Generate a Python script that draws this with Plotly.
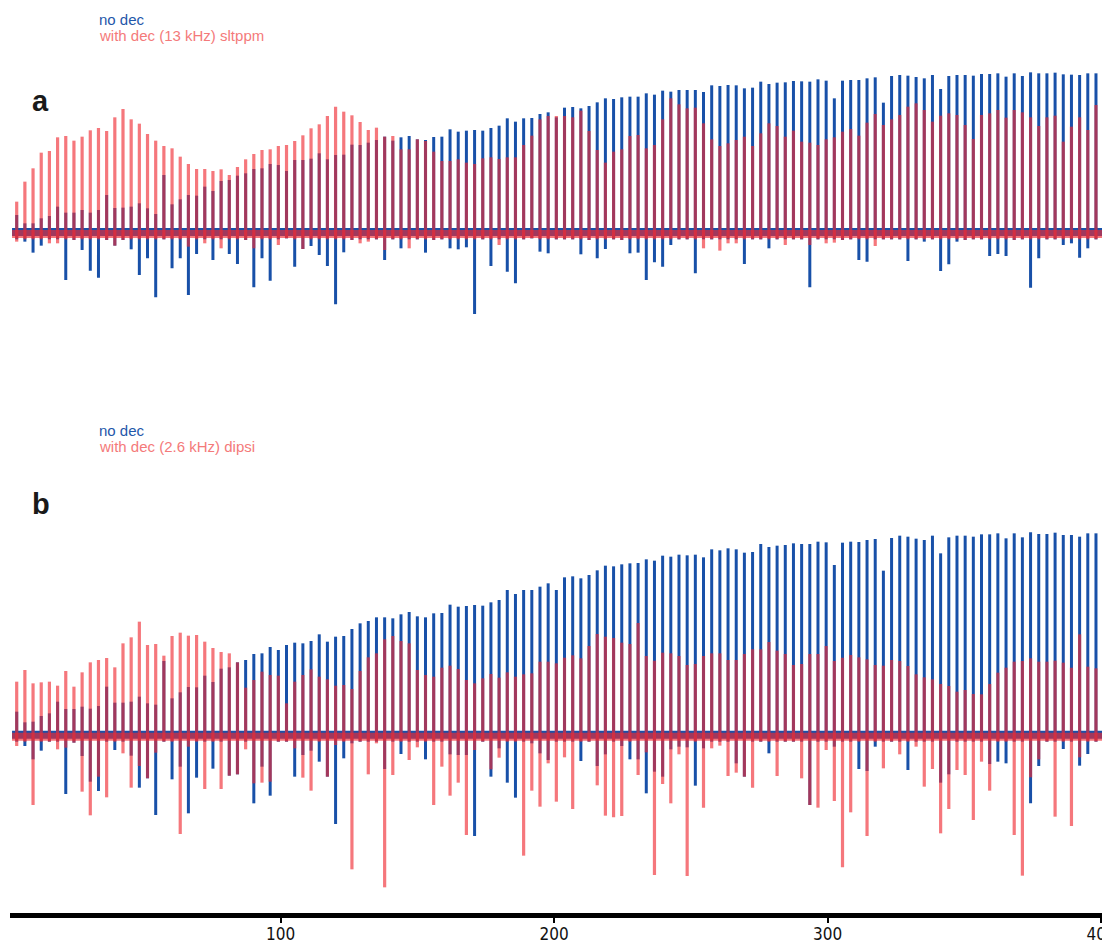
import numpy as np
import plotly.graph_objects as go

# Spike train: one peak every ~3 time units, 133 peaks in each spectrum
N_PEAKS = 133
PEAK_X0 = 3.55
PEAK_DX = 2.989
peak_x = PEAK_X0 + PEAK_DX * np.arange(N_PEAKS)

# ---------------- panel a : no dec vs with dec (13 kHz) sltppm ----------------
a_dec_pos = [
    95, 155, 195, 242, 247, 288, 292, 278, 290, 309,
    316, 307, 348, 373, 342, 329, 298, 278, 262, 255,
    230, 208, 193, 193, 187, 192, 175, 199, 222, 238,
    250, 252, 262, 265, 277, 294, 315, 327, 352, 380,
    365, 354, 334, 310, 317, 290, 292, 252, 252, 282,
    277, 245, 217, 217, 222, 212, 208, 225, 228, 223,
    228, 228, 265, 293, 342, 352, 352, 352, 348, 368,
    307, 250, 212, 245, 252, 292, 295, 255, 265, 342,
    405, 387, 375, 377, 330, 282, 262, 270, 280, 290,
    262, 300, 330, 322, 290, 308, 275, 272, 265, 282,
    288, 305, 313, 293, 332, 358, 325, 342, 355, 380,
    390, 370, 335, 353, 360, 355, 325, 283, 355, 360,
    370, 347, 370, 363, 348, 322, 348, 353, 275, 320,
    348, 310, 385,
]
a_dec_neg = [
    -25, -18, -18, -18, -30, -30, -18, -20, -18, -18,
    -18, -20, -37, -20, -18, -18, -18, -18, -18, -18,
    -18, -40, -18, -30, -18, -45, -18, -18, -20, -45,
    -18, -18, -35, -15, -18, -47, -18, -18, -18, -18,
    -18, -20, -30, -25, -18, -50, -18, -18, -45, -18,
    -18, -20, -18, -18, -18, -18, -18, -18, -18, -35,
    -18, -18, -18, -15, -18, -18, -18, -18, -18, -18,
    -20, -18, -18, -18, -20, -18, -18, -18, -18, -18,
    -18, -18, -18, -18, -45, -18, -52, -30, -30, -18,
    -18, -18, -18, -18, -35, -18, -18, -35, -18, -30,
    -28, -20, -18, -18, -18, -38, -18, -18, -18, -18,
    -18, -18, -18, -18, -18, -18, -20, -18, -18, -18,
    -18, -18, -20, -18, -18, -18, -18, -18, -18, -18,
    -18, -18, -18,
]
a_nodec_pos = [
    55, 30, 30, 45, 52, 80, 62, 62, 70, 62,
    70, 115, 76, 77, 80, 90, 75, 58, 175, 87,
    102, 115, 113, 140, 127, 157, 160, 173, 180, 193,
    195, 208, 205, 187, 220, 220, 224, 240, 222, 235,
    236, 266, 265, 272, 280, 290, 278, 288, 292, 282,
    280, 289, 290, 312, 305, 308, 310, 308, 316, 323,
    345, 335, 345, 346, 358, 363, 348, 377, 379, 375,
    382, 393, 405, 403, 408, 410, 410, 420, 416, 428,
    425, 430, 430, 430, 424, 444, 442, 445, 444, 435,
    437, 455, 448, 452, 453, 457, 456, 455, 462, 458,
    405, 458, 460, 460, 465, 468, 392, 472, 475, 473,
    469, 465, 475, 433, 472, 475, 475, 473, 478, 478,
    480, 470, 480, 472, 483, 480, 480, 482, 477, 476,
    475, 480, 480,
]
a_nodec_neg = [
    -18, -25, -58, -37, -18, -18, -140, -20, -50, -112,
    -133, -20, -37, -20, -48, -125, -75, -192, -18, -105,
    -75, -185, -62, -18, -80, -18, -62, -92, -20, -162,
    -75, -142, -18, -15, -100, -47, -38, -65, -98, -213,
    -57, -20, -18, -18, -18, -80, -18, -45, -18, -18,
    -58, -20, -18, -45, -48, -42, -242, -18, -98, -18,
    -115, -150, -18, -15, -55, -60, -18, -18, -18, -63,
    -20, -75, -47, -18, -20, -60, -58, -140, -87, -100,
    -35, -18, -18, -120, -18, -18, -18, -18, -18, -92,
    -18, -18, -45, -18, -18, -18, -18, -162, -18, -18,
    -18, -20, -18, -80, -85, -18, -18, -18, -18, -83,
    -18, -25, -18, -113, -93, -25, -20, -18, -18, -68,
    -62, -68, -20, -18, -163, -75, -18, -18, -35, -30,
    -73, -45, -18,
]

# ---------------- panel b : no dec vs with dec (2.6 kHz) dipsi ----------------
b_dec_pos = [
    163, 198, 158, 161, 163, 151, 195, 148, 191, 221,
    228, 234, 206, 278, 296, 343, 273, 276, 241, 300,
    310, 301, 303, 283, 264, 252, 248, 221, 145, 168,
    193, 183, 181, 98, 163, 183, 200, 178, 170, 151,
    153, 141, 195, 236, 248, 290, 300, 285, 278, 198,
    183, 178, 205, 211, 201, 168, 158, 173, 186, 175,
    191, 178, 185, 188, 223, 223, 218, 235, 242, 233,
    270, 306, 298, 294, 280, 276, 339, 240, 226, 250,
    248, 240, 213, 216, 240, 248, 248, 228, 228, 246,
    260, 260, 282, 256, 246, 213, 216, 246, 246, 270,
    225, 235, 243, 236, 230, 213, 211, 228, 225, 210,
    185, 176, 170, 156, 150, 133, 138, 126, 125, 156,
    190, 205, 223, 225, 233, 223, 223, 226, 220, 205,
    305, 208, 203,
]
b_dec_neg = [
    -30, -17, -207, -17, -17, -40, -35, -20, -167, -238,
    -122, -184, -17, -52, -155, -90, -127, -50, -17, -17,
    -294, -32, -17, -159, -17, -159, -119, -115, -40, -142,
    -140, -137, -17, -17, -37, -125, -164, -17, -122, -27,
    -17, -400, -17, -115, -22, -454, -117, -17, -72, -34,
    -17, -207, -92, -179, -140, -297, -42, -17, -100, -65,
    -17, -17, -359, -164, -212, -82, -197, -64, -219, -17,
    -17, -148, -239, -244, -240, -17, -117, -49, -417, -144,
    -202, -55, -420, -17, -215, -37, -29, -120, -110, -122,
    -155, -17, -17, -120, -17, -17, -127, -207, -215, -42,
    -195, -394, -229, -17, -300, -17, -97, -17, -55, -17,
    -32, -152, -99, -292, -219, -102, -117, -252, -77, -164,
    -17, -17, -297, -419, -124, -70, -17, -242, -17, -270,
    -64, -17, -17,
]
b_nodec_pos = [
    73, 41, 43, 60, 68, 103, 81, 81, 88, 82,
    90, 148, 100, 100, 103, 118, 98, 94, 225, 113,
    131, 147, 146, 181, 162, 202, 206, 221, 228, 246,
    248, 267, 258, 273, 280, 278, 285, 305, 283, 298,
    300, 321, 338, 345, 356, 356, 353, 365, 372, 359,
    356, 368, 369, 394, 388, 390, 393, 391, 401, 408,
    438, 426, 438, 438, 448, 458, 438, 476, 479, 473,
    483, 497, 511, 509, 515, 518, 519, 530, 526, 541,
    538, 544, 542, 544, 536, 560, 557, 563, 560, 550,
    552, 576, 567, 571, 573, 578, 576, 576, 583, 581,
    513, 580, 583, 582, 588, 591, 496, 594, 601, 598,
    592, 588, 601, 548, 596, 601, 601, 598, 605, 605,
    608, 593, 608, 596, 611, 606, 606, 610, 603, 603,
    598, 608, 608,
]
b_nodec_neg = [
    -17, -30, -70, -44, -17, -17, -174, -20, -60, -137,
    -165, -17, -42, -17, -59, -155, -127, -237, -17, -130,
    -92, -232, -125, -17, -98, -17, -119, -115, -17, -202,
    -92, -179, -17, -17, -122, -57, -44, -77, -122, -264,
    -67, -22, -17, -17, -17, -99, -17, -54, -17, -17,
    -70, -17, -17, -55, -57, -57, -300, -17, -122, -37,
    -140, -185, -17, -22, -52, -72, -17, -17, -17, -75,
    -17, -90, -55, -17, -30, -70, -70, -172, -107, -122,
    -40, -32, -34, -149, -37, -17, -17, -17, -82, -122,
    -17, -17, -52, -17, -17, -17, -17, -207, -17, -17,
    -32, -17, -17, -99, -105, -32, -17, -17, -17, -102,
    -17, -17, -17, -140, -115, -17, -17, -17, -17, -84,
    -77, -82, -17, -17, -202, -90, -17, -17, -39, -17,
    -89, -54, -17,
]

x_ticks = [100, 200, 300, 400]
x_tick_text = ["100", "200", "300", "400"]

BLUE = "rgb(24, 80, 168)"
RED = "rgba(240, 42, 50, 0.64)"
BLUE_TXT = "#1f57aa"
RED_TXT = "#f47a7a"
FONT = "Liberation Sans, Arial, sans-serif"


def spikes(x, pos, neg):
    """Vertical stick for every peak, from its negative lobe to its positive lobe."""
    xs, ys = [], []
    for xi, p, n in zip(x, pos, neg):
        xs += [float(xi), float(xi), None]
        ys += [p, n, None]
    return xs, ys


fig = go.Figure()

panels = [
    ("y", a_nodec_pos, a_nodec_neg, a_dec_pos, a_dec_neg),
    ("y2", b_nodec_pos, b_nodec_neg, b_dec_pos, b_dec_neg),
]
x_lo, x_hi = 1.85, 400.3
for yref, nd_pos, nd_neg, d_pos, d_neg in panels:
    # noisy baseline band of each spectrum
    fig.add_trace(go.Scatter(x=[x_lo, x_hi], y=[4, 4], mode="lines", yaxis=yref,
                             line=dict(color=BLUE, width=8), hoverinfo="skip"))
    xs, ys = spikes(peak_x, nd_pos, nd_neg)
    fig.add_trace(go.Scatter(x=xs, y=ys, mode="lines", yaxis=yref,
                             line=dict(color=BLUE, width=3), name="no dec"))
    fig.add_trace(go.Scatter(x=[x_lo, x_hi], y=[-2, -2], mode="lines", yaxis=yref,
                             line=dict(color=RED, width=8), hoverinfo="skip"))
    xs, ys = spikes(peak_x, d_pos, d_neg)
    fig.add_trace(go.Scatter(x=xs, y=ys, mode="lines", yaxis=yref,
                             line=dict(color=RED, width=3.2), name="with dec"))

annotations = [
    dict(text="no dec", x=0.0797, y=0.9787, color=BLUE_TXT),
    dict(text="with dec (13 kHz) sltppm", x=0.0797, y=0.9606, color=RED_TXT),
    dict(text="no dec", x=0.0797, y=0.5290, color=BLUE_TXT),
    dict(text="with dec (2.6 kHz) dipsi", x=0.0797, y=0.5110, color=RED_TXT),
]
ann = []
for a in annotations:
    ann.append(dict(text=a["text"], x=a["x"], y=a["y"], xref="paper", yref="paper",
                    xanchor="left", yanchor="middle", showarrow=False,
                    font=dict(family=FONT, size=15, color=a["color"])))
for label, yy in (("a", 0.8895), ("b", 0.4475)):
    ann.append(dict(text=f"<b>{label}</b>", x=0.0183, y=yy, xref="paper", yref="paper",
                    xanchor="left", yanchor="middle", showarrow=False,
                    font=dict(family=FONT, size=29, color="#1a1a1a")))

fig.update_layout(
    width=1102, height=944,
    margin=dict(l=10, r=0, t=0, b=31, autoexpand=False),
    paper_bgcolor="white", plot_bgcolor="white",
    showlegend=False,
    annotations=ann,
    xaxis=dict(range=[1.1, 400.3], anchor="y2", showline=True, linecolor="black",
               linewidth=5, ticks="outside", ticklen=5, tickwidth=1.5, tickcolor="black",
               tickvals=x_ticks, ticktext=x_tick_text, showgrid=False, zeroline=False,
               ticklabeloverflow="allow", automargin=False, ticklabelstandoff=-3,
               tickfont=dict(family="Liberation Sans Narrow, DejaVu Sans Condensed, Arial Narrow, sans-serif",
                             size=17, color="#111111")),
    yaxis=dict(domain=[0.5, 1.0], range=[-669.6, 700], visible=False, showgrid=False),
    yaxis2=dict(domain=[0.0, 0.5], range=[-531, 838.5], visible=False, showgrid=False),
)

fig.write_html("out.html")
